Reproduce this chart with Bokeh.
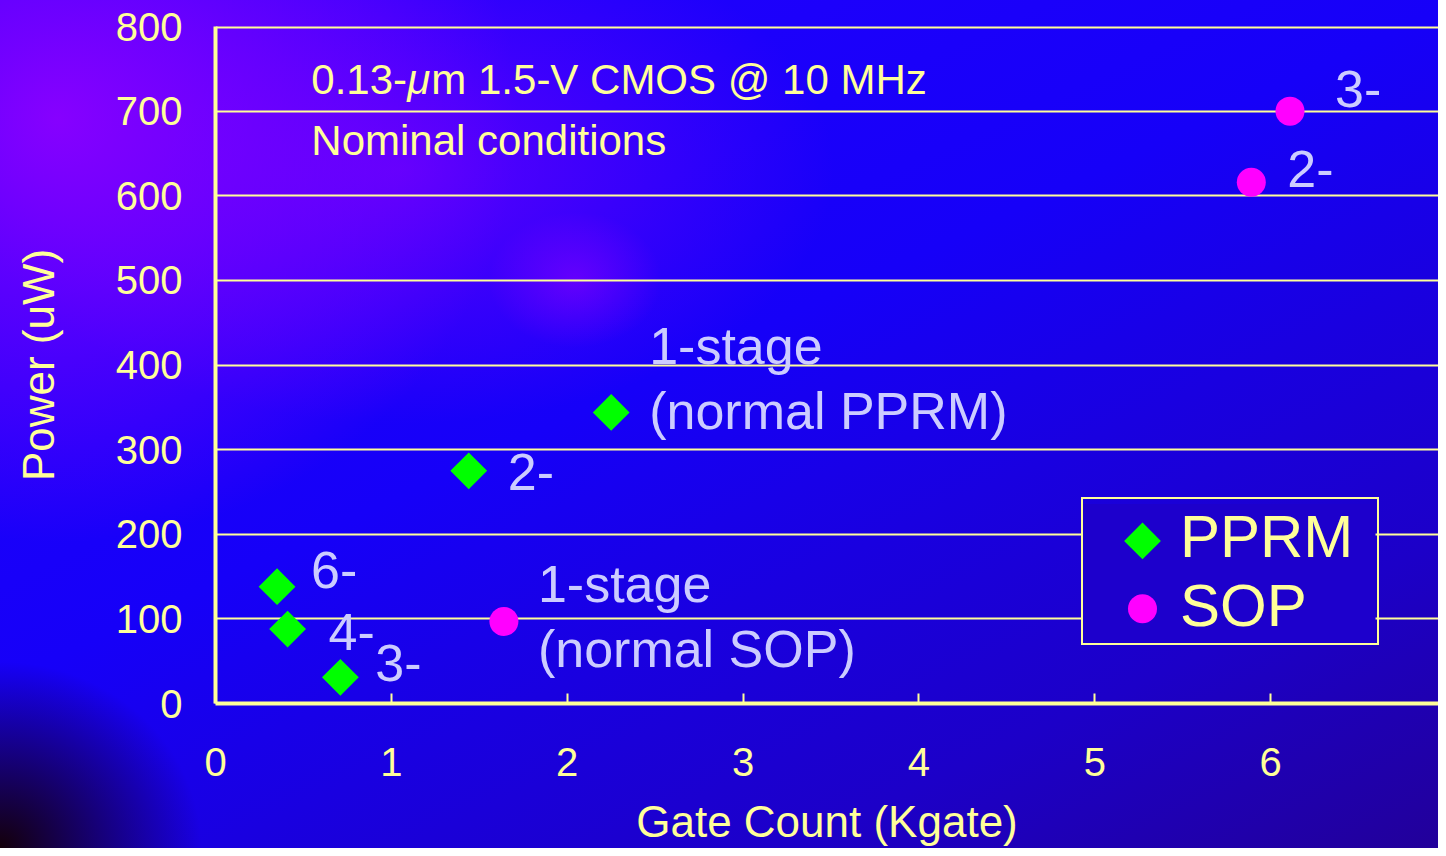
import numpy as np
from bokeh.plotting import figure
from bokeh.models import ColumnDataSource, Legend, LegendItem, Label, FixedTicker, Span
from bokeh.core.properties import value
from bokeh.embed import file_html
from bokeh.resources import INLINE

# ---- data ----
pprm_x = [2.25, 1.44, 0.35, 0.41, 0.71]
pprm_y = [344, 275, 138, 88, 31]
pprm_labels = ["1-stage\n(normal PPRM)", "2-", "6-", "4-", "3-"]

sop_x = [6.11, 5.89, 1.64]
sop_y = [700, 616, 97]
sop_labels = ["3-", "2-", "1-stage\n(normal SOP)"]

x_ticks = [0, 1, 2, 3, 4, 5, 6, 7]
y_ticks = [0, 100, 200, 300, 400, 500, 600, 700, 800]

series_names = ["PPRM", "SOP"]

# label offsets in screen pixels (style)
pprm_dx = [38, 39, 34, 41, 35]
pprm_dy = [-34, 1, -17, 3, -14]
sop_dx = [45, 36, 34]
sop_dy = [-22, -13, -5]

FONT = "Liberation Sans"
YEL = "#ffff99"
LAV = "#ccccff"
GREEN = "#00ff00"
MAGENTA = "#ff00ff"

W, H = 1438, 848
LEFT, TOP, BOTTOM_Y = 215, 26, 705
X_SCALE = 175.86                      # px per Kgate
X_END = (W - LEFT) / X_SCALE          # frame ends at the figure's right edge
Y_SCALE = (BOTTOM_Y - TOP) / 800.0

p = figure(width=W, height=H, x_range=(0, X_END), y_range=(0, 800),
           output_backend="svg", toolbar_location=None,
           min_border_left=LEFT, min_border_right=0, min_border_top=TOP,
           min_border_bottom=H - BOTTOM_Y)

p.border_fill_color = None
p.background_fill_color = None
p.styles = {"background": (
    "radial-gradient(ellipse 32% 50% at 4% 14%, rgba(150,0,255,0.85) 0%, rgba(150,0,255,0) 100%),"
    "radial-gradient(ellipse 30% 30% at 28% 20%, rgba(140,0,255,0.55) 0%, rgba(140,0,255,0) 100%),"
    "radial-gradient(ellipse 6% 8% at 40% 33%, rgba(150,0,255,0.5) 0%, rgba(150,0,255,0) 100%),"
    "radial-gradient(ellipse 14% 22% at 0% 100%, rgba(20,0,10,1) 0%, rgba(20,0,60,0) 100%),"
    "linear-gradient(155deg, #2400ff 0%, #1600f8 45%, #1c00c8 80%, #22009a 100%)")}

p.outline_line_color = None
p.add_layout(Span(location=800, dimension="width", line_color=YEL, line_width=4))

p.xgrid.visible = False
p.ygrid.grid_line_color = YEL
p.ygrid.grid_line_width = 2
p.ygrid.ticker = FixedTicker(ticks=y_ticks)

p.xaxis.ticker = FixedTicker(ticks=x_ticks)
p.yaxis.ticker = FixedTicker(ticks=y_ticks)
for ax in (p.xaxis[0], p.yaxis[0]):
    ax.axis_line_color = YEL
    ax.axis_line_width = 4
    ax.major_label_text_color = YEL
    ax.major_label_text_font = FONT
    ax.major_label_text_font_size = "40px"
    ax.axis_label_text_color = YEL
    ax.axis_label_text_font = FONT
    ax.axis_label_text_font_size = "44px"
    ax.axis_label_text_font_style = "normal"
    ax.minor_tick_line_color = None

p.xaxis.axis_label = "Gate Count (Kgate)"
p.xaxis.major_tick_in = 10
p.xaxis.major_tick_out = 0
p.xaxis.major_tick_line_color = YEL
p.xaxis.major_tick_line_width = 2
p.xaxis.major_label_standoff = 44
p.xaxis.axis_label_standoff = 18

p.yaxis.axis_label = "Power (uW)"
p.yaxis.major_tick_line_color = None
p.yaxis.major_label_standoff = 27
p.yaxis.axis_label_standoff = 50

# ---- legend geometry (px, from the frame's bottom-left) ----
LEG_X, LEG_Y = 866, 58
LEG_PAD, GLYPH_W, GLYPH_H, LABEL_W = 3, 94, 68, 194
SWATCH_X = 61
LEG_W = 2 * LEG_PAD + GLYPH_W + LABEL_W
LEG_H = 2 * LEG_PAD + 2 * GLYPH_H

# legend backing (covers the grid lines behind the transparent legend box)
p.quad(left=[LEG_X / X_SCALE], right=[(LEG_X + LEG_W) / X_SCALE],
       bottom=[LEG_Y / Y_SCALE], top=[(LEG_Y + LEG_H) / Y_SCALE],
       fill_color="#1d00cc", line_color=None)

pprm_src = ColumnDataSource(dict(x=pprm_x, y=pprm_y, t=pprm_labels, dx=pprm_dx, dy=pprm_dy))
sop_src = ColumnDataSource(dict(x=sop_x, y=sop_y, t=sop_labels, dx=sop_dx, dy=sop_dy))

DIAMOND = dict(marker="square", size=26, angle=np.pi / 4, fill_color=GREEN, line_color=None)
DOT = dict(marker="circle", size=29, fill_color=MAGENTA, line_color=None)

r_pprm = p.scatter("x", "y", source=pprm_src, **DIAMOND)
r_sop = p.scatter("x", "y", source=sop_src, **DOT)

for src in (pprm_src, sop_src):
    p.text("x", "y", text="t", source=src, x_offset="dx", y_offset="dy",
           text_font=value(FONT), text_font_size="52px", text_color=LAV,
           text_align="left", text_baseline="middle", text_line_height=1.11)

# ---- annotation (mu in italic) ----
ANN = dict(x=0.545, y=737, text_font=FONT, text_font_size="42px", text_color=YEL,
           text_baseline="middle")
p.add_layout(Label(text="0.13-", x_offset=0, **ANN))
p.add_layout(Label(text="\u03bc", x_offset=96, text_font_style="italic", **ANN))
p.add_layout(Label(text="m 1.5-V CMOS @ 10 MHz", x_offset=120, **ANN))
p.add_layout(Label(x=0.545, y=665, text="Nominal conditions", text_font=FONT,
                   text_font_size="42px", text_color=YEL, text_baseline="middle"))

# ---- legend: invisible keys, swatches drawn as glyphs under the transparent box ----
keys = [p.scatter(x=[], y=[], marker="circle", size=1, fill_alpha=0, line_alpha=0)
        for _ in series_names]

legend = Legend(items=[LegendItem(label=n, renderers=[k]) for n, k in zip(series_names, keys)],
                location=(LEG_X, LEG_Y), orientation="vertical")
legend.label_text_font = FONT
legend.label_text_font_size = "60px"
legend.label_text_color = YEL
legend.label_height = GLYPH_H
legend.label_width = LABEL_W
legend.glyph_height = GLYPH_H
legend.glyph_width = GLYPH_W
legend.label_standoff = 0
legend.padding = LEG_PAD
legend.spacing = 0
legend.margin = 0
legend.border_line_color = YEL
legend.border_line_alpha = 1.0
legend.border_line_width = 2
legend.background_fill_alpha = 0
p.add_layout(legend, "center")

sw_x = (LEG_X + SWATCH_X) / X_SCALE
for i, style in enumerate([DIAMOND, DOT]):
    sw_y = (LEG_Y + LEG_H - LEG_PAD - GLYPH_H * (i + 0.5)) / Y_SCALE
    p.scatter(x=[sw_x], y=[sw_y], **style)

open("out.html", "w").write(file_html(p, INLINE))
